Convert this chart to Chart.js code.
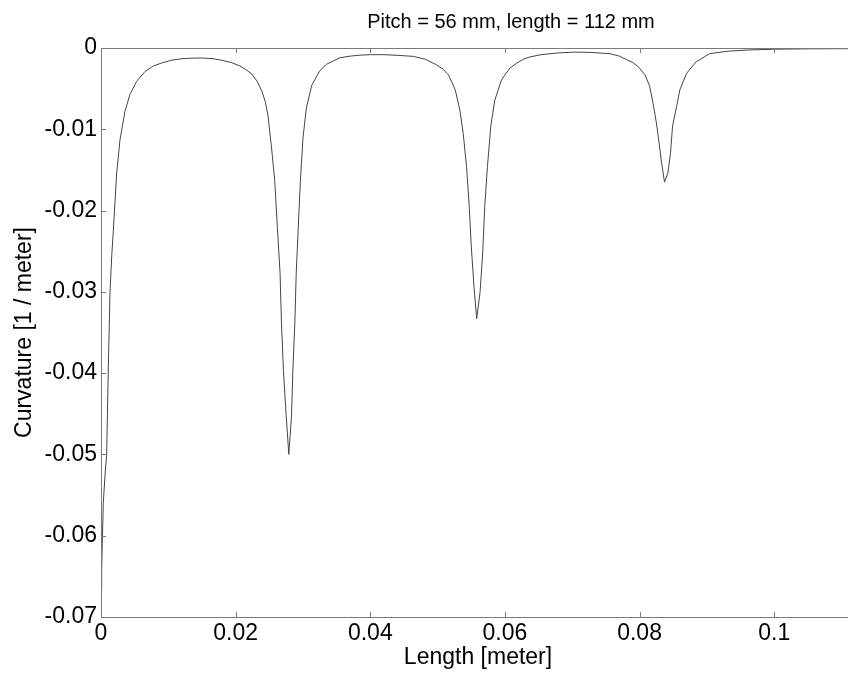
<!DOCTYPE html>
<html>
<head>
<meta charset="utf-8">
<script src="https://cdn.jsdelivr.net/npm/chart.js@4.4.1/dist/chart.umd.min.js"></script>
<style>
  html, body { margin: 0; padding: 0; background: #fff; overflow: hidden; }
  body { width: 848px; height: 674px; }
  canvas { display: block; }
</style>
</head>
<body>
<canvas id="c" width="960" height="674"></canvas>
<script>
// ---- data ----
const titleText = "Pitch = 56 mm, length = 112 mm";
const xLabel = "Length [meter]";
const yLabel = "Curvature [1 / meter]";

const xTicks = [0, 0.02, 0.04, 0.06, 0.08, 0.1];
const yTicks = [0, -0.01, -0.02, -0.03, -0.04, -0.05, -0.06, -0.07];

// length along the spring [m]
const lengthM = [
  0, 0.0001, 0.00034, 0.0006, 0.00084, 0.00109, 0.00134, 0.0016, 0.00183, 0.00233,
  0.00282, 0.00356, 0.0043, 0.0053, 0.00653, 0.0078, 0.009, 0.0105, 0.012, 0.0135,
  0.01495, 0.0165, 0.0179, 0.0194, 0.0206, 0.0216, 0.0224, 0.0232, 0.0239, 0.0244,
  0.0248, 0.0253, 0.0258, 0.0262, 0.0266, 0.0268, 0.0271, 0.0275, 0.0279, 0.0283,
  0.0285, 0.0288, 0.029, 0.0293, 0.0296, 0.03, 0.0305, 0.0313, 0.0325, 0.0335,
  0.0345, 0.0355, 0.037, 0.0385, 0.04, 0.042, 0.044, 0.0464, 0.0482, 0.0498,
  0.0508, 0.0516, 0.0526, 0.0533, 0.0538, 0.0543, 0.0547, 0.055, 0.0554, 0.0558,
  0.0563, 0.0567, 0.057, 0.0574, 0.0579, 0.0585, 0.0595, 0.0607, 0.0617, 0.0627,
  0.0637, 0.0655, 0.068, 0.0705, 0.0726, 0.0756, 0.077, 0.0781, 0.079, 0.0798,
  0.0808, 0.0815, 0.082, 0.0825, 0.0829, 0.0832, 0.0837, 0.0842, 0.0846, 0.0849,
  0.0855, 0.086, 0.087, 0.0884, 0.0904, 0.093, 0.096, 0.1, 0.105, 0.112
];
// curvature [1/m]
const curvature = [
  -0.0665, -0.064, -0.056, -0.0525, -0.05, -0.0392, -0.03, -0.0255, -0.0225, -0.0154,
  -0.0113, -0.0078, -0.0057, -0.0041, -0.0029, -0.0022, -0.00185, -0.0015, -0.00132, -0.00125,
  -0.00123, -0.0013, -0.0015, -0.0018, -0.0022, -0.0027, -0.0032, -0.0041, -0.0053, -0.0066,
  -0.0083, -0.012, -0.0163, -0.0221, -0.0277, -0.0337, -0.0397, -0.0452, -0.05, -0.0452,
  -0.0397, -0.0337, -0.0277, -0.0221, -0.0166, -0.0111, -0.0074, -0.0046, -0.0028, -0.002,
  -0.0016, -0.0012, -0.001, -0.00088, -0.00082, -0.00082, -0.0009, -0.00103, -0.0014, -0.00205,
  -0.0026, -0.0033, -0.0051, -0.0076, -0.0105, -0.0146, -0.0195, -0.0244, -0.0293, -0.0333,
  -0.0301, -0.0252, -0.0195, -0.0146, -0.0096, -0.0064, -0.0039, -0.0025, -0.0019, -0.0014,
  -0.0011, -0.0008, -0.0006, -0.0005, -0.00054, -0.0007, -0.001, -0.00144, -0.0018, -0.0023,
  -0.0033, -0.0047, -0.0068, -0.0092, -0.0117, -0.0137, -0.0165, -0.0154, -0.0129, -0.0096,
  -0.0072, -0.0051, -0.0031, -0.0017, -0.0007, -0.0004, -0.00025, -0.00015, -0.0001, -0.00008
];

// ---- chart ----
const FONT = '"Liberation Sans", Arial, Helvetica, sans-serif';
const fmt = v => String(+(+v).toFixed(4));

const points = lengthM.map((x, i) => ({ x: x, y: curvature[i] }));

const framePlugin = {
  id: 'frame',
  afterDraw(chart) {
    const ctx = chart.ctx;
    const a = chart.chartArea;
    const xs = chart.scales.x, ys = chart.scales.y;
    ctx.save();
    ctx.strokeStyle = '#7a7a7a';
    ctx.lineWidth = 1;
    // box
    ctx.strokeRect(Math.round(a.left) + 0.5, Math.round(a.top) + 0.5,
                   Math.round(a.right - a.left), Math.round(a.bottom - a.top));
    // inward ticks
    const tl = 5;
    ctx.beginPath();
    xTicks.forEach(v => {
      const px = Math.round(xs.getPixelForValue(v)) + 0.5;
      ctx.moveTo(px, a.bottom); ctx.lineTo(px, a.bottom - tl);
      ctx.moveTo(px, a.top); ctx.lineTo(px, a.top + tl);
    });
    yTicks.forEach(v => {
      const py = Math.round(ys.getPixelForValue(v)) + 0.5;
      ctx.moveTo(a.left, py); ctx.lineTo(a.left + tl, py);
      ctx.moveTo(a.right, py); ctx.lineTo(a.right - tl, py);
    });
    ctx.stroke();

    // texts
    ctx.fillStyle = '#000';
    ctx.textAlign = 'center';
    ctx.textBaseline = 'alphabetic';
    ctx.font = '20px ' + FONT;
    ctx.fillText(titleText, 511, 28);
    ctx.font = '23px ' + FONT;
    ctx.fillText(xLabel, (a.left + a.right) / 2, 664);
    ctx.save();
    ctx.translate(31, (a.top + a.bottom) / 2);
    ctx.rotate(-Math.PI / 2);
    ctx.fillText(yLabel, 0, 0);
    ctx.restore();
    ctx.restore();
  }
};

new Chart(document.getElementById('c'), {
  type: 'line',
  data: {
    datasets: [{
      data: points,
      borderColor: '#444',
      borderWidth: 1,
      pointRadius: 0,
      tension: 0,
      fill: false
    }]
  },
  options: {
    responsive: false,
    animation: false,
    events: [],
    layout: { padding: { left: 0, top: 48, right: 105, bottom: 0 } },
    plugins: { legend: { display: false }, title: { display: false }, tooltip: { enabled: false } },
    scales: {
      x: {
        type: 'linear',
        min: 0, max: 0.112,
        afterBuildTicks: s => { s.ticks = xTicks.map(v => ({ value: v })); },
        afterFit: s => { s.height = 57; },
        grid: { display: false, drawTicks: false },
        border: { display: false },
        ticks: {
          autoSkip: false, maxRotation: 0,
          padding: 3,
          color: '#000',
          font: { family: FONT, size: 23 },
          callback: v => fmt(v)
        }
      },
      y: {
        type: 'linear',
        min: -0.07, max: 0,
        afterBuildTicks: s => { s.ticks = yTicks.map(v => ({ value: v })); },
        afterFit: s => { s.width = 101; },
        grid: { display: false, drawTicks: false },
        border: { display: false },
        ticks: {
          autoSkip: false,
          padding: 4,
          color: '#000',
          font: { family: FONT, size: 23 },
          callback: v => fmt(v)
        }
      }
    }
  },
  plugins: [framePlugin]
});
</script>
</body>
</html>
